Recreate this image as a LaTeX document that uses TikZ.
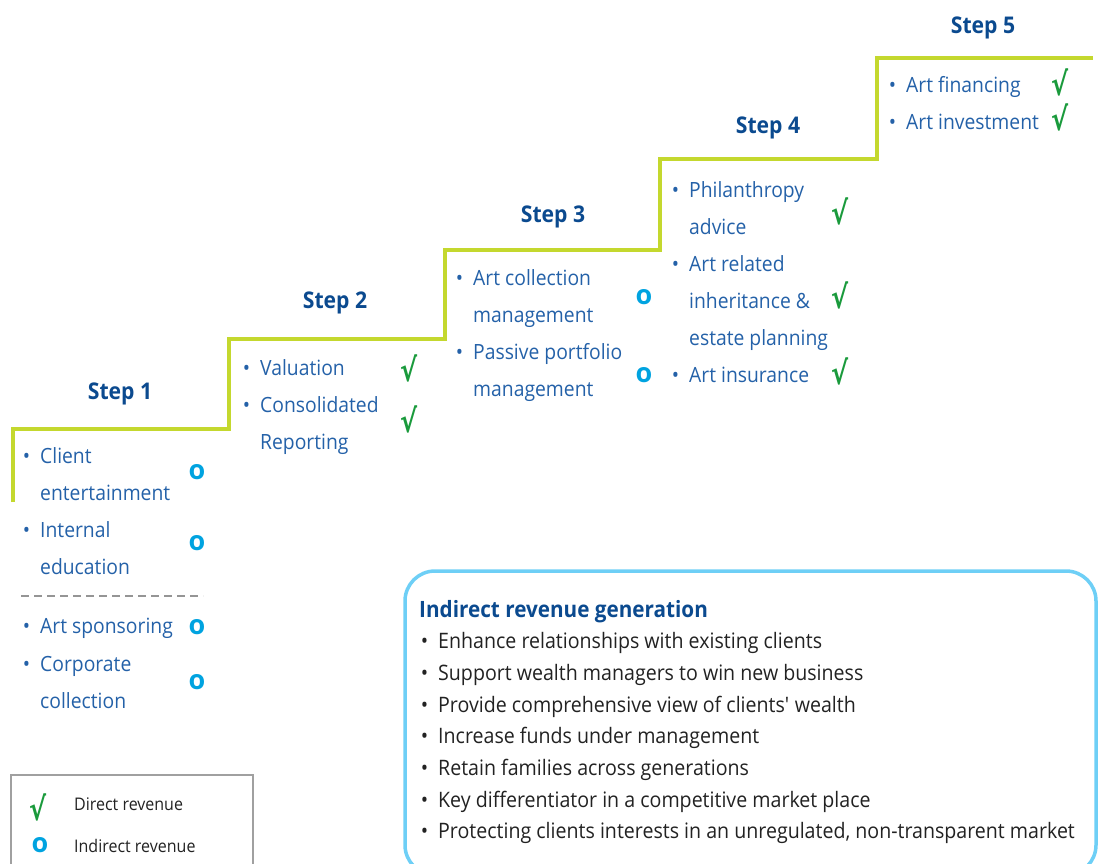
\documentclass[tikz,border=0pt]{standalone}
\usepackage{fontspec}
\setmainfont{Open Sans}[FakeStretch=0.92]
\newfontfamily\symfont{DejaVu Sans}[FakeStretch=0.8]
\newfontfamily\indfont{Open Sans}
\definecolor{itemblue}{HTML}{2461A8}
\definecolor{stepblue}{HTML}{0B4A8F}
\definecolor{stairgreen}{HTML}{C4D82E}
\definecolor{chkgreen}{HTML}{1A9A3C}
\definecolor{indcyan}{HTML}{00A3E0}
\definecolor{boxcyan}{HTML}{6ECFF6}
\definecolor{boxtext}{HTML}{222222}
\definecolor{dashgray}{HTML}{959595}
\definecolor{leggray}{HTML}{A0A0A0}
\tikzset{
  item/.style={anchor=base west, inner sep=0pt, text=itemblue, font=\fontsize{21}{25}\selectfont},
  steplabel/.style={anchor=base, inner sep=0pt, text=stepblue, font=\fontsize{23}{27}\selectfont\bfseries},
  chk/.style={inner sep=0pt, text=chkgreen, font=\fontsize{32}{36}\selectfont\symfont\bfseries},
  ind/.style={inner sep=0pt, text=indcyan, font=\fontsize{27}{30}\selectfont\indfont\bfseries},
  boxitem/.style={anchor=base west, inner sep=0pt, text=boxtext, font=\fontsize{21.3}{25}\selectfont},
  boxtitle/.style={anchor=base west, inner sep=0pt, text=stepblue, font=\fontsize{22.5}{26}\selectfont\bfseries},
  legtext/.style={anchor=base west, inner sep=0pt, text=boxtext, font=\fontsize{17.4}{20}\selectfont},
  stair/.style={draw=stairgreen, line width=4pt},
  sep/.style={draw=dashgray, line width=2.5pt, dash pattern=on 8pt off 5pt},
  revbox/.style={draw=boxcyan, line width=3.5pt, rounded corners=30pt},
  legbox/.style={draw=leggray, line width=1.3pt}
}
\newcommand{\bul}{\llap{\textbullet\hspace{10pt}}}
\begin{document}
\begin{tikzpicture}[x=1pt,y=-1pt]
\clip (0,0) rectangle (1100,863);
\useasboundingbox (0,0) rectangle (1100,863);
% staircase
\draw[stair] (13,502) -- (13,429) -- (229,429) -- (229,339) -- (445,339) -- (445,250) -- (660,250) -- (660,159) -- (877,159) -- (877,58) -- (1093,58);
% step labels
\node[steplabel] (st1) at (120,399) {Step 1};
\node[steplabel] (st2) at (335,308) {Step 2};
\node[steplabel] (st3) at (553,222) {Step 3};
\node[steplabel] (st4) at (768,133) {Step 4};
\node[steplabel] (st5) at (983,33) {Step 5};
% step 1
\node[item] (a1) at (40,463) {\bul Client};
\node[item] (a2) at (40,500) {entertainment};
\node[item] (a3) at (40,537) {\bul Internal};
\node[item] (a4) at (40,574) {education};
\draw[sep] (21,596) -- (203,596);
\node[item] (a5) at (40,633) {\bul Art sponsoring};
\node[item] (a6) at (40,671) {\bul Corporate};
\node[item] (a7) at (40,708) {collection};
\node[ind] (ia1) at (197,472) {o};
\node[ind] (ia2) at (197,543) {o};
\node[ind] (ia3) at (197,627) {o};
\node[ind] (ia4) at (197,682) {o};
% step 2
\node[item] (b1) at (260,375) {\bul Valuation};
\node[item] (b2) at (260,412) {\bul Consolidated};
\node[item] (b3) at (260,449) {Reporting};
\node[chk] (cb1) at (409,368) {√};
\node[chk] (cb2) at (409,419) {√};
% step 3
\node[item] (c1) at (473,285) {\bul Art collection};
\node[item] (c2) at (473,322) {management};
\node[item] (c3) at (473,359) {\bul Passive portfolio};
\node[item] (c4) at (473,396) {management};
\node[ind] (ic1) at (644,297) {o};
\node[ind] (ic2) at (644,375) {o};
% step 4
\node[item] (d1) at (689,197) {\bul Philanthropy};
\node[item] (d2) at (689,234) {advice};
\node[item] (d3) at (689,271) {\bul Art related};
\node[item] (d4) at (689,308) {inheritance \&};
\node[item] (d5) at (689,345) {estate planning};
\node[item] (d6) at (689,382) {\bul Art insurance};
\node[chk] (cd1) at (840,211) {√};
\node[chk] (cd2) at (840,295) {√};
\node[chk] (cd3) at (840,371) {√};
% step 5
\node[item] (e1) at (906,92) {\bul Art financing};
\node[item] (e2) at (906,129) {\bul Art investment};
\node[chk] (ce1) at (1060,82) {√};
\node[chk] (ce2) at (1060,117) {√};
% indirect revenue box
\draw[revbox] (405,571) rectangle (1096,875);
\node[boxtitle] (bt) at (419,617) {Indirect revenue generation};
\node[boxitem] (r1) at (438,648) {\bul Enhance relationships with existing clients};
\node[boxitem] (r2) at (438,680) {\bul Support wealth managers to win new business};
\node[boxitem] (r3) at (438,712) {\bul Provide comprehensive view of clients\textquotesingle{} wealth};
\node[boxitem] (r4) at (438,743) {\bul Increase funds under management};
\node[boxitem] (r5) at (438,775) {\bul Retain families across generations};
\node[boxitem] (r6) at (438,807) {\bul Key differentiator in a competitive market place};
\node[boxitem] (r7) at (438,838) {\bul Protecting clients interests in an unregulated, non-transparent market};
% legend
\draw[legbox] (11,775) rectangle (253,900);
\node[chk] (lc) at (38,807) {√};
\node[legtext] (lt1) at (74,810) {Direct revenue};
\node[ind] (li) at (40,845) {o};
\node[legtext] (lt2) at (74,852) {Indirect revenue};
\end{tikzpicture}
\end{document}
